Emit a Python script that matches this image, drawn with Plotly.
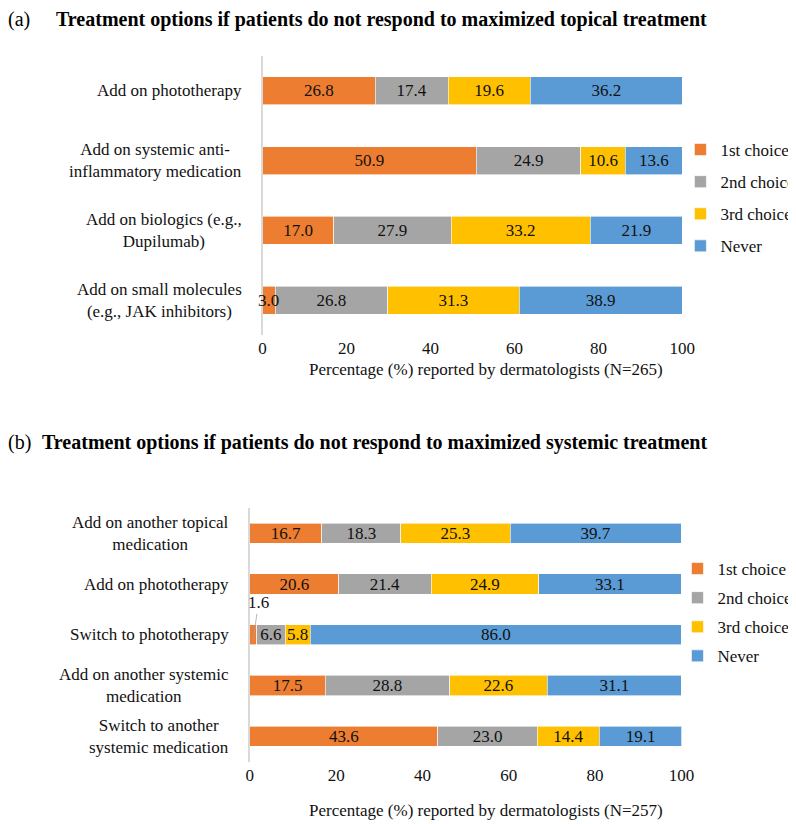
import plotly.graph_objects as go

# ---------------- data ----------------
series_names = ["1st choice", "2nd choice", "3rd choice", "Never"]
colors = ["#ED7D31", "#A5A5A5", "#FFC000", "#5B9BD5"]

cats_a = [
    "Add on phototherapy",
    "Add on systemic anti-<br>inflammatory medication",
    "Add on biologics (e.g.,<br>Dupilumab)",
    "Add on small molecules<br>(e.g., JAK inhibitors)",
]
a_first = [26.8, 50.9, 17.0, 3.0]
a_second = [17.4, 24.9, 27.9, 26.8]
a_third = [19.6, 10.6, 33.2, 31.3]
a_never = [36.2, 13.6, 21.9, 38.9]

cats_b = [
    "Add on another topical<br>medication",
    "Add on phototherapy",
    "Switch to phototherapy",
    "Add on another systemic<br>medication",
    "Switch to another<br>systemic medication",
]
b_first = [16.7, 20.6, 1.6, 17.5, 43.6]
b_second = [18.3, 21.4, 6.6, 28.8, 23.0]
b_third = [25.3, 24.9, 5.8, 22.6, 14.4]
b_never = [39.7, 33.1, 86.0, 31.1, 19.1]

x_ticks = [0, 20, 40, 60, 80, 100]
title_a = "Treatment options if patients do not respond to maximized topical treatment"
title_b = "Treatment options if patients do not respond to maximized systemic treatment"
xtitle_a = "Percentage (%) reported by dermatologists (N=265)"
xtitle_b = "Percentage (%) reported by dermatologists (N=257)"
# label drawn outside with a leader line (panel b)
outside_cat, outside_series = "Switch to phototherapy", 0

# ---------------- figure ----------------
W, H = 796, 824
FONT = "Liberation Serif"
TXT = "#111111"
FS = 17

def px_x(p):
    return p / W

def px_y(p):
    return 1 - p / H

fig = go.Figure()

series_a = [a_first, a_second, a_third, a_never]
series_b = [b_first, b_second, b_third, b_never]
annotations = []

def add_panel(series, cats, xa, ya, leg, prefix, skip=None):
    for i, (name, col, vals) in enumerate(zip(series_names, colors, series)):
        texts = []
        for j, (c, v) in enumerate(zip(cats, vals)):
            if skip is not None and c == skip[0] and i == skip[1]:
                texts.append("")
            elif v < 4:
                # too narrow: draw the label on top of everything
                texts.append("")
                start = sum(series[k][j] for k in range(i))
                annotations.append(dict(
                    xref=xa, yref=ya, x=start + v / 2, y=c, text=f"{v:.1f}",
                    showarrow=False, xanchor="center", yanchor="middle",
                    font=dict(family=FONT, size=FS, color=TXT)))
            else:
                texts.append(f"{v:.1f}")
        fig.add_trace(go.Bar(
            x=vals, y=cats, orientation="h", name=name,
            marker=dict(color=col, line=dict(color="white", width=0.6)),
            text=texts, textposition="inside",
            insidetextanchor="middle", textangle=0,
            textfont=dict(family=FONT, size=FS, color=TXT),
            xaxis=xa, yaxis=ya, legend=leg, legendgroup=f"{prefix}{i}",
            hoverinfo="skip",
        ))

add_panel(series_a, cats_a, "x", "y", "legend", "a")
add_panel(series_b, cats_b, "x2", "y2", "legend2", "b", skip=(outside_cat, outside_series))

axis_common_x = dict(
    range=[0, 100], tickvals=x_ticks, showgrid=False, zeroline=False,
    showline=False, ticks="", tickfont=dict(family=FONT, size=FS, color=TXT),
    fixedrange=True, ticklabelstandoff=1,
)
axis_common_y = dict(
    type="category", showgrid=False, zeroline=False, showline=True,
    linecolor="#D9D9D9", linewidth=1.5, ticks="", showticklabels=False,
    fixedrange=True,
)

# category labels (centered multi-line, right-aligned block)
for c in cats_a:
    annotations.append(dict(
        xref="paper", yref="y", x=px_x(237), y=c, text=c, showarrow=False,
        xanchor="right", align="center",
        font=dict(family=FONT, size=FS, color=TXT)))
for c in cats_b:
    annotations.append(dict(
        xref="paper", yref="y2", x=px_x(224), y=c, text=c, showarrow=False,
        xanchor="right", align="center",
        font=dict(family=FONT, size=FS, color=TXT)))

# titles
annotations += [
    dict(xref="paper", yref="paper", x=px_x(-6), y=px_y(12), text="(a)", showarrow=False,
         xanchor="left", yanchor="middle", font=dict(family=FONT, size=20, color="black")),
    dict(xref="paper", yref="paper", x=px_x(43), y=px_y(12), text=f"<b>{title_a}</b>",
         showarrow=False, xanchor="left", yanchor="middle",
         font=dict(family=FONT, size=20, color="black")),
    dict(xref="paper", yref="paper", x=px_x(-6), y=px_y(434), text="(b)", showarrow=False,
         xanchor="left", yanchor="middle", font=dict(family=FONT, size=20, color="black")),
    dict(xref="paper", yref="paper", x=px_x(29), y=px_y(434), text=f"<b>{title_b}</b>",
         showarrow=False, xanchor="left", yanchor="middle",
         font=dict(family=FONT, size=20, color="black")),
    dict(xref="paper", yref="paper", x=px_x(484), y=px_y(361), text=xtitle_a,
         showarrow=False, xanchor="center", yanchor="middle",
         font=dict(family=FONT, size=FS, color=TXT)),
    dict(xref="paper", yref="paper", x=px_x(484), y=px_y(802), text=xtitle_b,
         showarrow=False, xanchor="center", yanchor="middle",
         font=dict(family=FONT, size=FS, color=TXT)),
]

# outside label with leader line
idx = cats_b.index(outside_cat)
val = series_b[outside_series][idx]
annotations.append(dict(
    xref="x2", yref="y2", x=val / 2, y=idx + 0.12, text=f"{val:.1f}",
    showarrow=True, arrowhead=0, arrowwidth=0.8, arrowcolor="#A5A5A5",
    ax=5, ay=-38, standoff=0,
    font=dict(family=FONT, size=FS, color=TXT)))

fig.update_layout(
    width=W, height=H, margin=dict(l=0, r=0, t=0, b=0),
    paper_bgcolor="white", plot_bgcolor="white",
    barmode="stack", bargap=0.6,
    xaxis=dict(domain=[px_x(256), px_x(685)], anchor="y", **axis_common_x),
    yaxis=dict(domain=[px_y(327), px_y(48)], anchor="x", range=[3.5, -0.5],
               categoryorder="array", categoryarray=cats_a, **axis_common_y),
    xaxis2=dict(domain=[px_x(243), px_x(684)], anchor="y2", **axis_common_x),
    yaxis2=dict(domain=[px_y(753.5), px_y(500)], anchor="x2", range=[4.5, -0.5],
                categoryorder="array", categoryarray=cats_b, **axis_common_y),
    uniformtext=dict(minsize=FS, mode="show"),
    legend=dict(x=px_x(683), y=px_y(124), xanchor="left", yanchor="top",
                traceorder="grouped", tracegroupgap=7,
                font=dict(family=FONT, size=FS, color=TXT),
                bgcolor="rgba(0,0,0,0)", itemclick=False, itemdoubleclick=False),
    legend2=dict(x=px_x(680), y=px_y(543), xanchor="left", yanchor="top",
                 traceorder="grouped", tracegroupgap=4,
                 font=dict(family=FONT, size=FS, color=TXT),
                 bgcolor="rgba(0,0,0,0)", itemclick=False, itemdoubleclick=False),
    annotations=annotations,
    showlegend=True,
)

fig.write_html("out.html", config={"displayModeBar": False})
